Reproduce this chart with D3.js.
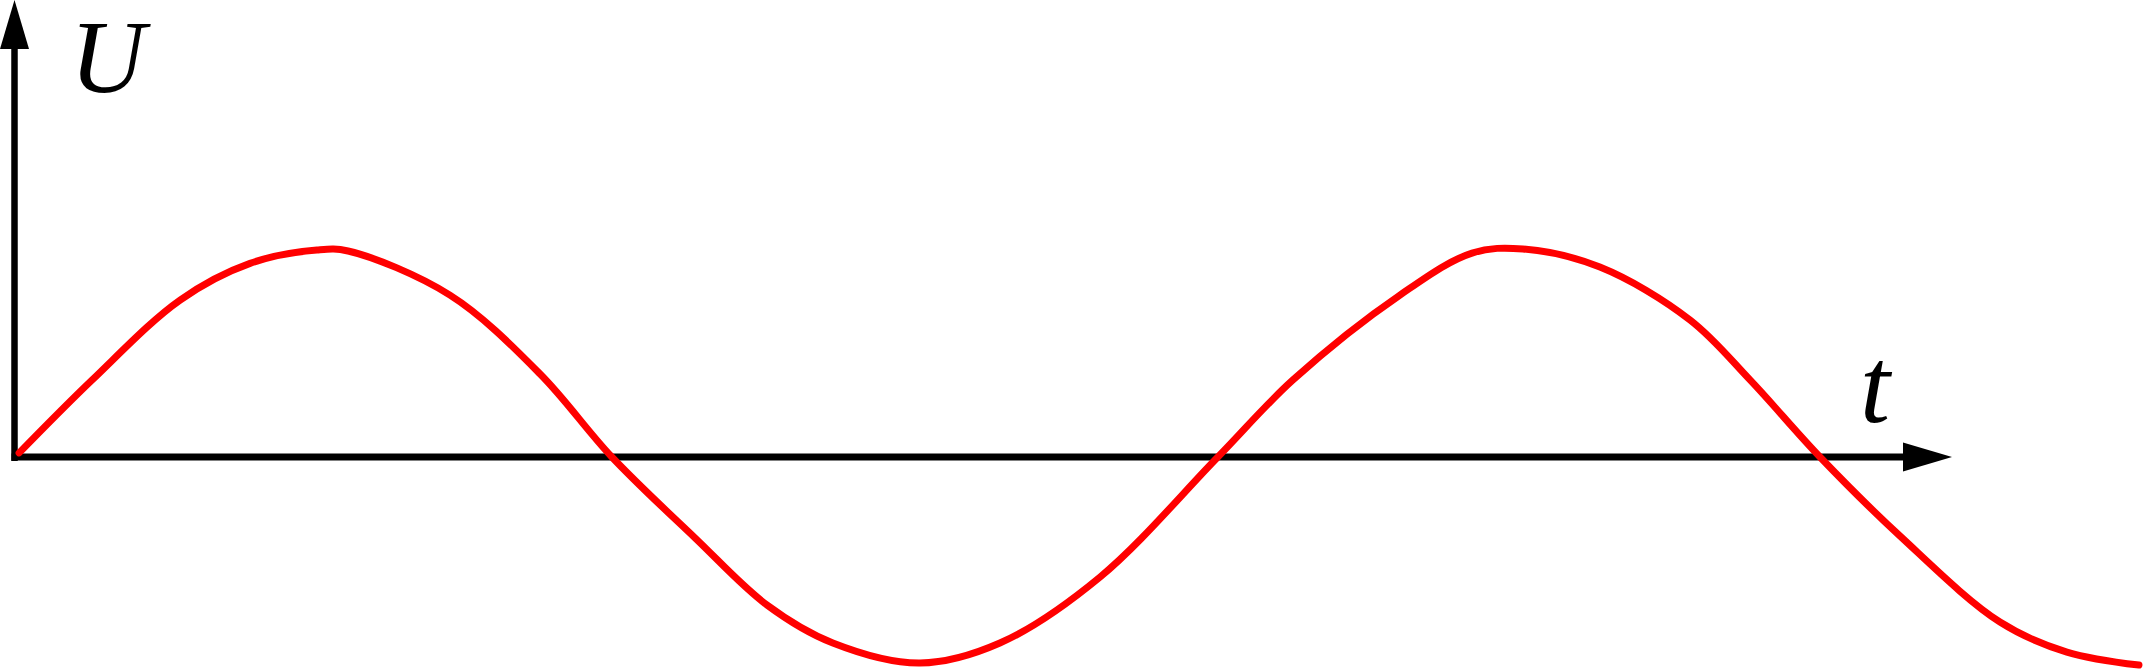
<!DOCTYPE html>
<html>
<head>
<meta charset="utf-8">
<script src="https://cdn.jsdelivr.net/npm/d3@7"></script>
<style>
  html, body { margin: 0; padding: 0; background: #fff; }
  svg { display: block; }
</style>
</head>
<body>
<script>
// ---- data ----
// t in quarter-period units, U normalised to the amplitude
const tValues = [0.007, 0.249, 0.541, 0.773, 0.995, 1.098, 1.436, 1.735, 1.973, 2.249, 2.488, 2.706, 2.995, 3.26, 3.592, 3.983, 4.232, 4.587, 4.826, 4.995, 5.25, 5.549, 5.748, 5.98, 6.245, 6.577, 6.799, 7.038];
const uValues = [0.02, 0.374, 0.762, 0.94, 1.005, 1.0, 0.786, 0.403, 0.0, -0.393, -0.719, -0.903, -1.0, -0.903, -0.583, 0.0, 0.374, 0.786, 0.99, 1.01, 0.922, 0.665, 0.374, 0.0, -0.383, -0.801, -0.947, -1.01];
const axisLabelU = "U";
const axisLabelT = "t";
const xTicks = [];
const yTicks = [];

const W = 2144, H = 671;
const svg = d3.select("body").append("svg").attr("width", W).attr("height", H);

const x = d3.scaleLinear().domain([0, 4]).range([17, 1223]);
const y = d3.scaleLinear().domain([-1, 1]).range([663, 251]);

const originX = 14.5, originY = y(0);
const xAxisEnd = 1905, yAxisEnd = 47;
const arrowLen = 49, arrowHalf = 14.5;

// x axis
const xAxisScale = d3.scaleLinear().domain([0, 1]).range([originX - 3.5, xAxisEnd]);
const gx = svg.append("g").attr("transform", `translate(0,${originY - 0.5})`)
  .call(d3.axisBottom(xAxisScale).tickValues(xTicks).tickSizeOuter(0));
gx.select(".domain").attr("stroke", "#000").attr("stroke-width", 7);

// y axis
const yAxisScale = d3.scaleLinear().domain([0, 1]).range([originY + 3.5, yAxisEnd]);
const gy = svg.append("g").attr("transform", `translate(${originX - 0.5},0)`)
  .call(d3.axisLeft(yAxisScale).tickValues(yTicks).tickSizeOuter(0));
gy.select(".domain").attr("stroke", "#000").attr("stroke-width", 6.5);

// arrowheads
function arrow(tipX, tipY, angle) {
  const p = `M0,0 L${-arrowLen},${-arrowHalf} L${-arrowLen},${arrowHalf} Z`;
  svg.append("path").attr("d", p).attr("fill", "#000")
    .attr("transform", `translate(${tipX},${tipY}) rotate(${angle})`);
}
arrow(xAxisEnd - 2 + arrowLen, originY, 0);
arrow(originX, 0, -90);

// curve
const pts = tValues.map((t, i) => [t, uValues[i]]);
const line = d3.line().x(d => x(d[0])).y(d => y(d[1])).curve(d3.curveCatmullRom.alpha(0.5));
svg.append("path").datum(pts).attr("d", line)
  .attr("fill", "none").attr("stroke", "#ff0000").attr("stroke-width", 7)
  .attr("stroke-linecap", "round").attr("stroke-linejoin", "round");

// labels
svg.append("text").attr("x", 70).attr("y", 92).text(axisLabelU)
  .attr("font-family", "'Liberation Serif', 'DejaVu Serif', serif")
  .attr("font-style", "italic").attr("font-size", 104).attr("fill", "#000");
svg.append("text").attr("x", 1860).attr("y", 422).text(axisLabelT)
  .attr("font-family", "'Liberation Serif', 'DejaVu Serif', serif")
  .attr("font-style", "italic").attr("font-size", 108).attr("fill", "#000");
</script>
</body>
</html>
